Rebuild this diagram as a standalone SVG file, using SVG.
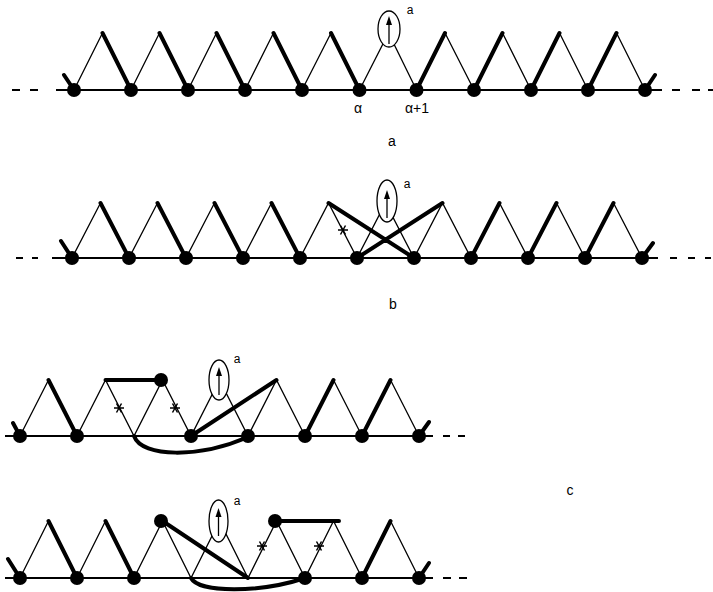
<svg xmlns="http://www.w3.org/2000/svg" width="713" height="592" viewBox="0 0 713 592">
<style>
.base{stroke:#000;stroke-width:2;fill:none}
.thin{stroke:#000;stroke-width:1.3;fill:none}
.thick{stroke:#000;stroke-width:4;fill:none;stroke-linecap:round}
.dot{fill:#000}
.ell{fill:#fff;stroke:#000;stroke-width:1.3}
.lbl{font-family:"Liberation Sans",Arial,sans-serif;font-size:14px;fill:#000}
.sm{font-family:"Liberation Sans",Arial,sans-serif;font-size:12px;fill:#000}
.ast{stroke:#000;stroke-width:1.5;fill:none}
</style>
<defs>
<path id="ast" class="ast" d="M-5,0H5M-2.5,-4.5L2.5,4.5M-2.5,4.5L2.5,-4.5"/>
<g id="arrow">
<line x1="0" y1="15" x2="0" y2="-5" stroke="#000" stroke-width="1.3"/>
<polygon points="0,-13 -3,-4 3,-4" fill="#000"/>
</g>
</defs>

<!-- Panel a -->
<g id="panel-a">
<g id="a-connectors">
<path class="base" d="M12,90H20M30,90H38M56,90H662M672,90H680M692,90H700M708,90H713"/>
<path class="thin" d="M74,90L102.5,33M131,90L159.5,33M188,90L216.5,33M245,90L273.5,33M302,90L331,33M359.5,90L388.5,33L416.5,90M445,33L474,90M502.5,33L531,90M559.5,33L588,90M616.5,33L645,90"/>
<path class="thick" d="M102.5,33L131,90M159.5,33L188,90M216.5,33L245,90M273.5,33L302,90M331,33L359.5,90M416.5,90L445,33M474,90L502.5,33M531,90L559.5,33M588,90L616.5,33M64,75L74,90M645,90L655,75"/>
</g>
<g id="a-nodes">
<circle class="dot" cx="74" cy="90" r="7"/><circle class="dot" cx="131" cy="90" r="7"/><circle class="dot" cx="188" cy="90" r="7"/><circle class="dot" cx="245" cy="90" r="7"/><circle class="dot" cx="302" cy="90" r="7"/><circle class="dot" cx="359.5" cy="90" r="7"/><circle class="dot" cx="416.5" cy="90" r="7"/><circle class="dot" cx="474" cy="90" r="7"/><circle class="dot" cx="531" cy="90" r="7"/><circle class="dot" cx="588" cy="90" r="7"/><circle class="dot" cx="645" cy="90" r="7"/>
</g>
<g id="a-spin">
<ellipse class="ell" cx="389" cy="29" rx="11" ry="18"/>
<use href="#arrow" x="389" y="29"/>
<text class="sm" x="410" y="14" text-anchor="middle">a</text>
</g>
<text class="lbl" x="358" y="113" text-anchor="middle">α</text>
<text class="lbl" x="417" y="113" text-anchor="middle">α+1</text>
<text class="lbl" x="392" y="146" text-anchor="middle">a</text>
</g>

<!-- Panel b -->
<g id="panel-b">
<g id="b-connectors">
<path class="base" d="M16,258H23M32,258H38M52,258H658M670,258H677M688,258H695M705,258H711"/>
<path class="thin" d="M72,258L100.5,203M129,258L157.5,203M186,258L214.5,203M243,258L271.5,203M300,258L328.5,203L357,258M357,258L385.5,203L414,258M414,258L442.5,203L471,258M499.5,203L528,258M556.5,203L585,258M613.5,203L642,258"/>
<path class="thick" d="M100.5,203L129,258M157.5,203L186,258M214.5,203L243,258M271.5,203L300,258M328.5,203L414,258M357,258L442.5,203M471,258L499.5,203M528,258L556.5,203M585,258L613.5,203M61,241L72,258M642,258L653,243"/>
<use href="#ast" x="343" y="230"/>
</g>
<g id="b-nodes">
<circle class="dot" cx="72" cy="258" r="7"/><circle class="dot" cx="129" cy="258" r="7"/><circle class="dot" cx="186" cy="258" r="7"/><circle class="dot" cx="243" cy="258" r="7"/><circle class="dot" cx="300" cy="258" r="7"/><circle class="dot" cx="357" cy="258" r="7"/><circle class="dot" cx="414" cy="258" r="7"/><circle class="dot" cx="471" cy="258" r="7"/><circle class="dot" cx="528" cy="258" r="7"/><circle class="dot" cx="585" cy="258" r="7"/><circle class="dot" cx="642" cy="258" r="7"/>
</g>
<g id="b-spin">
<ellipse class="ell" cx="387" cy="201" rx="10" ry="21"/>
<use href="#arrow" x="387" y="203"/>
<text class="sm" x="407" y="188" text-anchor="middle">a</text>
</g>
<text class="lbl" x="393" y="309" text-anchor="middle">b</text>
</g>

<!-- Panel c, upper -->
<g id="panel-c1">
<g id="c1-connectors">
<path class="base" d="M5,436H433M443,436H450M458,436H465"/>
<path class="thin" d="M20,436L48.5,380M77,436L105.5,380L134,436L162.5,380L191,436L219.5,380L248,436L276.5,380L305,436M333.5,380L362,436M390.5,380L419,436"/>
<path class="thick" d="M48.5,380L77,436M105.5,380H162.5M191,436L276.5,380M305,436L333.5,380M362,436L390.5,380M13,423L20,436M419,436L429,422"/>
<path class="thick" d="M134,436C142,458 200,458 248,437"/>
<use href="#ast" x="119" y="408"/>
<use href="#ast" x="175" y="408"/>
</g>
<g id="c1-nodes">
<circle class="dot" cx="20" cy="436" r="7"/><circle class="dot" cx="77" cy="436" r="7"/><circle class="dot" cx="191" cy="436" r="7"/><circle class="dot" cx="248" cy="436" r="7"/><circle class="dot" cx="305" cy="436" r="7"/><circle class="dot" cx="362" cy="436" r="7"/><circle class="dot" cx="419" cy="436" r="7"/>
<circle class="dot" cx="161" cy="380" r="7"/>
</g>
<g id="c1-spin">
<ellipse class="ell" cx="219" cy="380" rx="10" ry="20"/>
<use href="#arrow" x="219" y="380"/>
<text class="sm" x="237" y="363" text-anchor="middle">a</text>
</g>
</g>

<!-- Panel c, lower -->
<g id="panel-c2">
<g id="c2-connectors">
<path class="base" d="M5,578H433M443,578H451M459,578H467"/>
<path class="thin" d="M20,578L48.5,521M77,578L105.5,521M134,578L162.5,521L191,578L219.5,521L248,578L276.5,521L305,578L333.5,521L362,578M390.5,521L419,578"/>
<path class="thick" d="M48.5,521L77,578M105.5,521L134,578M162.5,521L248,578M276.5,521H339M362,578L390.5,521M8,559L20,578M419,578L429,563"/>
<path class="thick" d="M191,578C199,593 260,593 305,578"/>
<use href="#ast" x="262" y="546"/>
<use href="#ast" x="319" y="546"/>
</g>
<g id="c2-nodes">
<circle class="dot" cx="20" cy="578" r="7"/><circle class="dot" cx="77" cy="578" r="7"/><circle class="dot" cx="134" cy="578" r="7"/><circle class="dot" cx="305" cy="578" r="7"/><circle class="dot" cx="362" cy="578" r="7"/><circle class="dot" cx="419" cy="578" r="7"/>
<circle class="dot" cx="161" cy="521" r="7"/><circle class="dot" cx="275" cy="521" r="7"/>
</g>
<g id="c2-spin">
<ellipse class="ell" cx="218.5" cy="521" rx="9.5" ry="21"/>
<use href="#arrow" x="218.5" y="521"/>
<text class="sm" x="237" y="505" text-anchor="middle">a</text>
</g>
</g>
<text class="lbl" x="570" y="495" text-anchor="middle">c</text>
</svg>
